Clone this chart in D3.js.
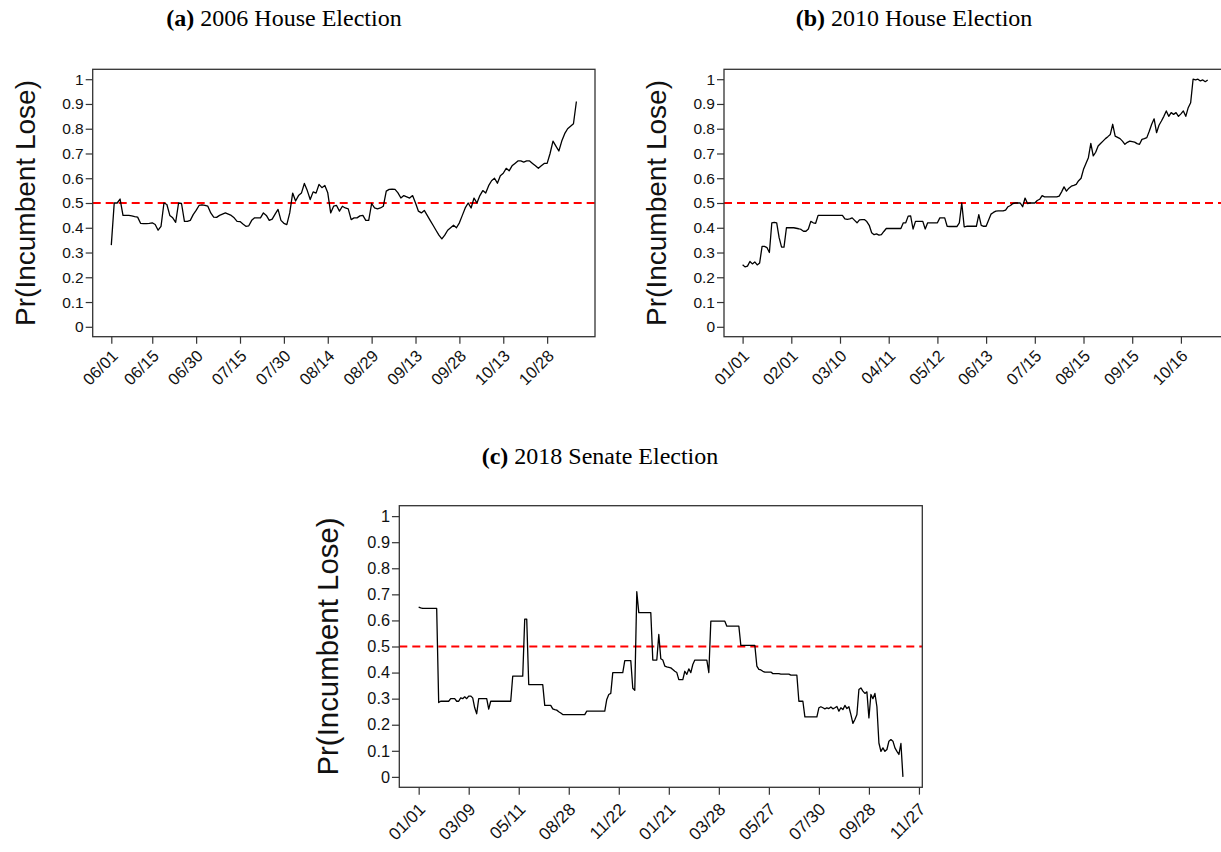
<!DOCTYPE html>
<html>
<head>
<meta charset="utf-8">
<script src="https://cdn.jsdelivr.net/npm/d3@7"></script>
<style>
  body { margin: 0; background: #fff; }
  svg { display: block; }
</style>
</head>
<body>
<div id="chart"></div>
<script>
// (a) 2006 House: one value per day, 06/01 .. 11/07
const houseA = [
  0.33, 0.50, 0.50, 0.516, 0.45, 0.45, 0.45, 0.448, 0.445, 0.443,
  0.418, 0.417, 0.417, 0.418, 0.42, 0.413, 0.39, 0.406, 0.50, 0.494,
  0.45, 0.44, 0.422, 0.50, 0.498, 0.426, 0.426, 0.43, 0.453, 0.47,
  0.49, 0.492, 0.49, 0.487, 0.46, 0.443, 0.442, 0.45, 0.455, 0.46,
  0.455, 0.45, 0.44, 0.426, 0.425, 0.415, 0.406, 0.408, 0.43, 0.44,
  0.44, 0.44, 0.46, 0.45, 0.43, 0.435, 0.455, 0.474, 0.43, 0.418,
  0.413, 0.46, 0.54, 0.508, 0.53, 0.54, 0.579, 0.55, 0.514, 0.545,
  0.54, 0.575, 0.562, 0.571, 0.541, 0.46, 0.487, 0.49, 0.467, 0.487,
  0.48, 0.476, 0.433, 0.44, 0.44, 0.448, 0.45, 0.43, 0.43, 0.498,
  0.48, 0.476, 0.48, 0.487, 0.548, 0.555, 0.556, 0.555, 0.541, 0.52,
  0.53, 0.525, 0.52, 0.53, 0.5, 0.467, 0.46, 0.47, 0.45, 0.43,
  0.41, 0.39, 0.37, 0.355, 0.37, 0.39, 0.40, 0.41, 0.40, 0.42,
  0.45, 0.48, 0.5, 0.48, 0.52, 0.5, 0.53, 0.55, 0.54, 0.57,
  0.59, 0.6, 0.58, 0.61, 0.62, 0.64, 0.63, 0.65, 0.66, 0.67,
  0.67, 0.665, 0.67, 0.67, 0.66, 0.65, 0.64, 0.65, 0.66, 0.66,
  0.7, 0.75, 0.73, 0.71, 0.75, 0.78, 0.8, 0.81, 0.82, 0.91
];
const houseATickIdx = [0, 14, 29, 44, 59, 74, 89, 104, 119, 134, 149];
const houseATickLabels = ["06/01", "06/15", "06/30", "07/15", "07/30", "08/14", "08/29", "09/13", "09/28", "10/13", "10/28"];

// (b) 2010 House: one value per observation
const houseB = [
  0.251, 0.242, 0.245, 0.264, 0.254, 0.262, 0.25, 0.258, 0.325, 0.325,
  0.32, 0.30, 0.42, 0.422, 0.42, 0.36, 0.322, 0.322, 0.40, 0.40,
  0.40, 0.40, 0.398, 0.396, 0.393, 0.386, 0.386, 0.395, 0.426, 0.42,
  0.418, 0.45, 0.45, 0.45, 0.45, 0.45, 0.45, 0.45, 0.45, 0.45,
  0.45, 0.45, 0.436, 0.434, 0.436, 0.44, 0.43, 0.42, 0.432, 0.433,
  0.433, 0.425, 0.41, 0.38, 0.372, 0.375, 0.37, 0.372, 0.385, 0.397,
  0.397, 0.397, 0.397, 0.397, 0.397, 0.397, 0.42, 0.42, 0.447, 0.448,
  0.395, 0.426, 0.426, 0.426, 0.426, 0.395, 0.42, 0.42, 0.42, 0.42,
  0.42, 0.44, 0.44, 0.44, 0.406, 0.405, 0.405, 0.405, 0.405, 0.42,
  0.5, 0.404, 0.406, 0.406, 0.406, 0.406, 0.406, 0.453, 0.41, 0.406,
  0.406, 0.43, 0.455, 0.462, 0.467, 0.468, 0.468, 0.468, 0.471, 0.485,
  0.49, 0.498, 0.5, 0.5, 0.5, 0.485, 0.52, 0.498, 0.5, 0.5,
  0.5, 0.51, 0.515, 0.53, 0.525, 0.525, 0.525, 0.525, 0.525, 0.525,
  0.528, 0.545, 0.565, 0.548, 0.56, 0.568, 0.571, 0.575, 0.59, 0.6,
  0.636, 0.66, 0.683, 0.741, 0.69, 0.705, 0.73, 0.74, 0.75, 0.76,
  0.768, 0.777, 0.818, 0.77, 0.765, 0.76, 0.75, 0.737, 0.745, 0.75,
  0.748, 0.746, 0.74, 0.737, 0.757, 0.76, 0.764, 0.79, 0.818, 0.84,
  0.784, 0.814, 0.831, 0.85, 0.872, 0.85, 0.865, 0.858, 0.865, 0.85,
  0.86, 0.872, 0.85, 0.885, 0.905, 1.0, 0.997, 1.0, 0.993, 0.997,
  0.99, 0.997
];
const houseBTickIdx = [0, 20, 40, 60, 80, 100, 120, 140, 160, 180];
const houseBTickLabels = ["01/01", "02/01", "03/10", "04/11", "05/12", "06/13", "07/15", "08/15", "09/15", "10/16"];

// (c) 2018 Senate: one value per observation
const senateC = [
  0.651, 0.648, 0.646, 0.646, 0.646, 0.646, 0.646, 0.646, 0.646, 0.646,
  0.285, 0.29, 0.29, 0.29, 0.29, 0.29, 0.30, 0.30, 0.30, 0.29,
  0.29, 0.303, 0.30, 0.307, 0.30, 0.31, 0.31, 0.303, 0.265, 0.242,
  0.30, 0.30, 0.30, 0.30, 0.30, 0.26, 0.29, 0.29, 0.29, 0.29,
  0.29, 0.29, 0.29, 0.29, 0.29, 0.29, 0.29, 0.386, 0.386, 0.386,
  0.386, 0.386, 0.386, 0.605, 0.605, 0.354, 0.354, 0.354, 0.354, 0.354,
  0.354, 0.354, 0.354, 0.274, 0.274, 0.274, 0.274, 0.261, 0.258, 0.256,
  0.25, 0.245, 0.239, 0.239, 0.239, 0.239, 0.239, 0.239, 0.239, 0.239,
  0.239, 0.239, 0.239, 0.239, 0.252, 0.252, 0.252, 0.252, 0.252, 0.252,
  0.252, 0.252, 0.252, 0.252, 0.297, 0.316, 0.32, 0.40, 0.40, 0.40,
  0.40, 0.40, 0.40, 0.446, 0.446, 0.446, 0.446, 0.34, 0.332, 0.71,
  0.63, 0.63, 0.63, 0.63, 0.63, 0.63, 0.63, 0.448, 0.448, 0.448,
  0.546, 0.453, 0.448, 0.425, 0.422, 0.42, 0.418, 0.412, 0.405, 0.40,
  0.373, 0.373, 0.373, 0.405, 0.393, 0.414, 0.40, 0.431, 0.448, 0.448,
  0.448, 0.448, 0.448, 0.448, 0.448, 0.40, 0.597, 0.597, 0.597, 0.597,
  0.597, 0.597, 0.597, 0.597, 0.578, 0.578, 0.578, 0.578, 0.578, 0.578,
  0.578, 0.504, 0.504, 0.504, 0.504, 0.504, 0.504, 0.504, 0.504, 0.425,
  0.412, 0.41, 0.405, 0.402, 0.402, 0.402, 0.402, 0.396, 0.396, 0.396,
  0.396, 0.394, 0.394, 0.394, 0.394, 0.394, 0.39, 0.39, 0.39, 0.39,
  0.29, 0.29, 0.29, 0.23, 0.23, 0.23, 0.23, 0.23, 0.23, 0.23,
  0.265, 0.269, 0.265, 0.261, 0.265, 0.262, 0.268, 0.261, 0.265, 0.27,
  0.252, 0.265, 0.258, 0.274, 0.262, 0.269, 0.239, 0.205, 0.22, 0.239,
  0.335, 0.341, 0.329, 0.32, 0.326, 0.226, 0.316, 0.30, 0.32, 0.269,
  0.13, 0.098, 0.111, 0.098, 0.105, 0.137, 0.143, 0.137, 0.111, 0.098,
  0.086, 0.128, 0.0
];
const senateCTickIdx = [0, 25, 50, 75, 100, 125, 150, 175, 200, 225, 250];
const senateCTickLabels = ["01/01", "03/09", "05/11", "08/28", "11/22", "01/21", "03/28", "05/27", "07/30", "09/28", "11/27"];

const yTicks = [0, 0.1, 0.2, 0.3, 0.4, 0.5, 0.6, 0.7, 0.8, 0.9, 1];
const yTickLabels = ["0", "0.1", "0.2", "0.3", "0.4", "0.5", "0.6", "0.7", "0.8", "0.9", "1"];
const threshold = 0.5;
const yLabel = "Pr(Incumbent Lose)";

const width = 1221;
const height = 852;

const svg = d3.select("#chart")
  .append("svg")
  .attr("width", width)
  .attr("height", height);

const panels = [
  { letter: "(a)", title: "2006 House Election", values: houseA, tickIdx: houseATickIdx, tickLabels: houseATickLabels,
    box: { left: 92.7, right: 595, top: 69.3, bottom: 336.7 }, titleX: 284, titleY: 26, k: 1, labelDy: 16 },
  { letter: "(b)", title: "2010 House Election", values: houseB, tickIdx: houseBTickIdx, tickLabels: houseBTickLabels,
    box: { left: 724, right: 1226.3, top: 69.3, bottom: 336.7 }, titleX: 914, titleY: 26, k: 1, labelDy: 16 },
  { letter: "(c)", title: "2018 Senate Election", values: senateC, tickIdx: senateCTickIdx, tickLabels: senateCTickLabels,
    box: { left: 399.3, right: 922.3, top: 505.7, bottom: 787.3 }, titleX: 600, titleY: 464, k: 1.05, labelDy: 19 }
];

panels.forEach(p => drawPanel(p));

function drawPanel(p) {
  const b = p.box;
  const n = p.values.length - 1;

  // R-style 4% padding on each side
  const x = d3.scaleLinear()
    .domain([-0.04 * n, n * 1.04])
    .range([b.left, b.right]);

  const y = d3.scaleLinear()
    .domain([-0.04, 1.04])
    .range([b.bottom, b.top]);

  // Title (LaTeX subcaption look)
  const title = svg.append("text")
    .attr("x", p.titleX)
    .attr("y", p.titleY)
    .attr("text-anchor", "middle")
    .style("font-family", "'Liberation Serif', 'Times New Roman', serif")
    .style("font-size", "24px")
    .style("fill", "#000");
  title.append("tspan").attr("font-weight", "bold").text(p.letter);
  title.append("tspan").text(" " + p.title);

  const g = svg.append("g")
    .style("font-family", "'Liberation Sans', Arial, Helvetica, sans-serif");

  // Y axis
  const yAxis = d3.axisLeft(y)
    .tickValues(yTicks)
    .tickFormat((d, i) => yTickLabels[i])
    .tickSize(7 * p.k)
    .tickPadding(2);

  g.append("g")
    .attr("transform", `translate(${b.left},0)`)
    .call(yAxis)
    .call(ax => ax.select(".domain").remove())
    .call(ax => ax.selectAll("line").attr("stroke", "#333").attr("stroke-width", 1.2))
    .call(ax => ax.selectAll("text")
      .style("font-size", (15.5 * p.k) + "px")
      .style("font-family", "'Liberation Sans', Arial, sans-serif")
      .attr("fill", "#111"));

  // X axis with rotated labels
  const xAxis = d3.axisBottom(x)
    .tickValues(p.tickIdx)
    .tickFormat((d, i) => p.tickLabels[i])
    .tickSize(7 * p.k);

  g.append("g")
    .attr("transform", `translate(0,${b.bottom})`)
    .call(xAxis)
    .call(ax => ax.select(".domain").remove())
    .call(ax => ax.selectAll("line").attr("stroke", "#333").attr("stroke-width", 1.2))
    .call(ax => ax.selectAll("text")
      .style("font-size", (16.5 * p.k) + "px")
      .style("font-family", "'Liberation Sans', Arial, sans-serif")
      .attr("fill", "#111")
      .attr("text-anchor", "end")
      .attr("dominant-baseline", "central")
      .attr("dy", null)
      .attr("y", 0)
      .attr("transform", `translate(3,${p.labelDy}) rotate(-45)`));

  // Y axis title
  g.append("text")
    .attr("transform", `translate(${b.left - 58 * p.k},${(b.top + b.bottom) / 2}) rotate(-90)`)
    .attr("text-anchor", "middle")
    .style("font-size", (28 * p.k) + "px")
    .attr("fill", "#111")
    .text(yLabel);

  // Threshold line
  g.append("line")
    .attr("x1", b.left)
    .attr("x2", b.right)
    .attr("y1", y(threshold))
    .attr("y2", y(threshold))
    .attr("stroke", "#ff0000")
    .attr("stroke-width", 2)
    .attr("stroke-dasharray", "8,5");

  // Series
  const line = d3.line()
    .x((d, i) => x(i))
    .y(d => y(d));

  g.append("path")
    .datum(p.values)
    .attr("d", line)
    .attr("fill", "none")
    .attr("stroke", "#000")
    .attr("stroke-width", 1.3)
    .attr("stroke-linejoin", "round");

  // Plot box
  g.append("rect")
    .attr("x", b.left)
    .attr("y", b.top)
    .attr("width", b.right - b.left)
    .attr("height", b.bottom - b.top)
    .attr("fill", "none")
    .attr("stroke", "#333")
    .attr("stroke-width", 1.3);
}
</script>
</body>
</html>
